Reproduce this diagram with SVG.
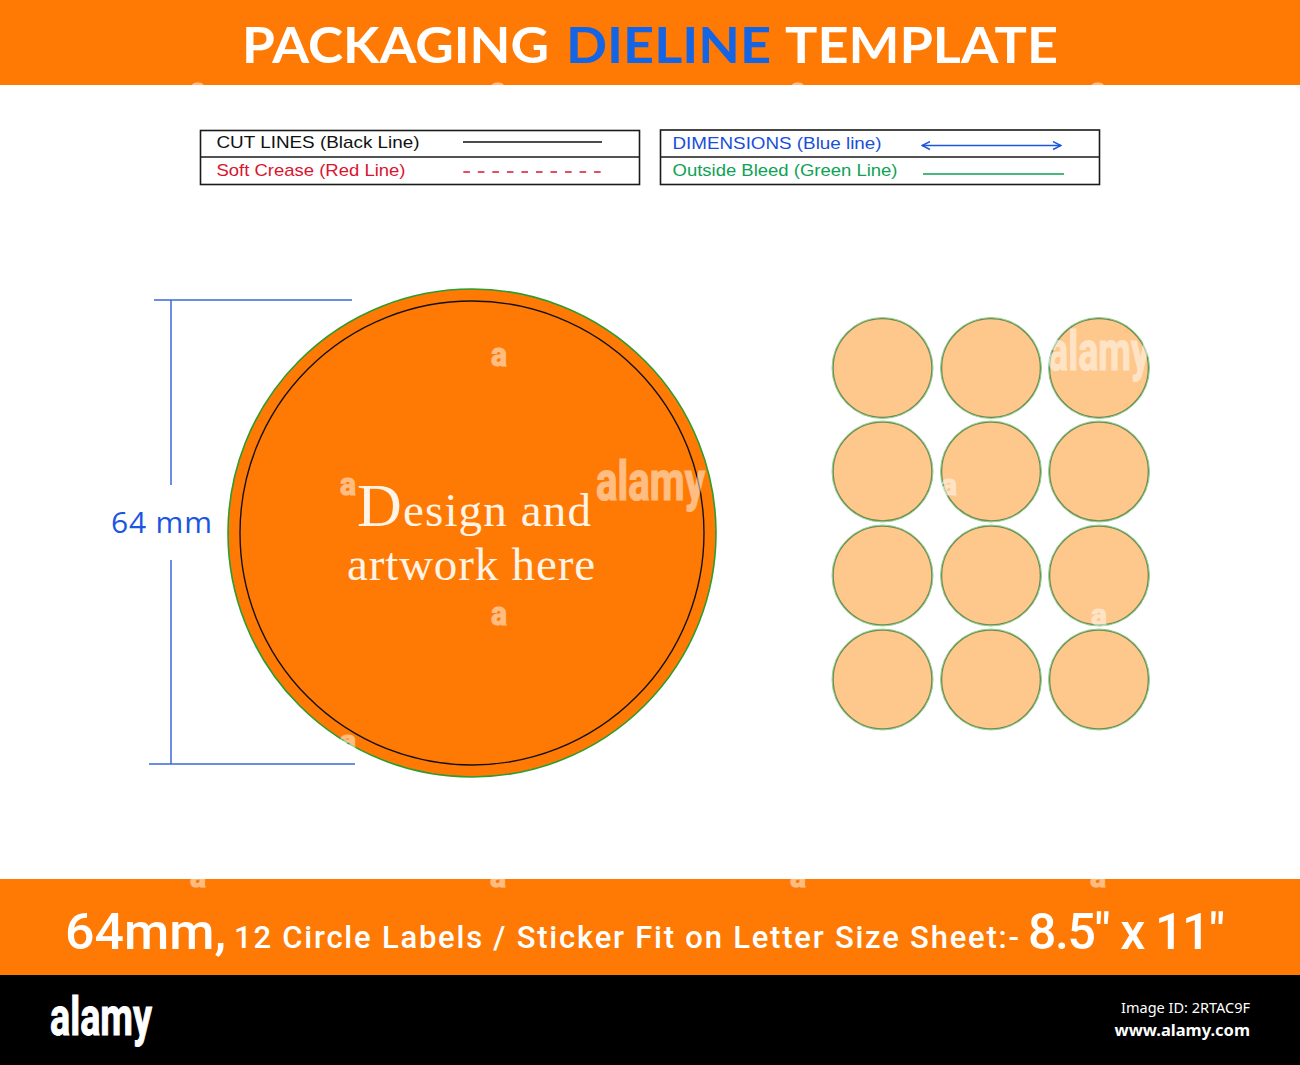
<svg xmlns="http://www.w3.org/2000/svg" width="1300" height="1065" viewBox="0 0 1300 1065">
<defs>
<marker id="ah" viewBox="0 0 10 10" refX="9" refY="5" markerWidth="10" markerHeight="10" orient="auto-start-reverse" markerUnits="userSpaceOnUse"><path d="M1 1 L9 5 L1 9" fill="none" stroke="#1a56e0" stroke-width="1.4"/></marker>
<clipPath id="top-band"><rect width="1300" height="85"/></clipPath>
<clipPath id="bottom-band"><rect y="879" width="1300" height="96"/></clipPath>
</defs>
<style>
.hd{font-family:"Lato","Open Sans","Liberation Sans",sans-serif;font-weight:700;font-size:50px}
.lg{font-family:"Liberation Sans",Arial,sans-serif;font-size:17px}
.ft{font-family:"Roboto","Liberation Sans",sans-serif;fill:#fff;font-weight:500}
.box{fill:#fff;stroke:#1a1a1a;stroke-width:1.6}
.dim{stroke:#3a68d8;stroke-width:1.5;fill:none}
.mini{fill:#fec78c;stroke:#6f8a52;stroke-width:1.6}
.halo{fill:none;stroke:#8fd08f;stroke-width:1}
.wm{font-family:"Roboto","Liberation Sans",sans-serif;font-weight:700;fill:#fff;stroke:#fff;stroke-width:1.2;opacity:.5}
.art{font-family:"Liberation Serif",serif;fill:#fff4e6;font-size:47px}
</style>
<rect width="1300" height="1065" fill="#fff"/>
<g id="header">
<rect width="1300" height="85" fill="#ff7a05"/>
<text class="hd" x="242" y="63" fill="#fff" textLength="307" lengthAdjust="spacingAndGlyphs">PACKAGING</text>
<text class="hd" x="566" y="63" fill="#1464e6" textLength="205" lengthAdjust="spacingAndGlyphs">DIELINE</text>
<text class="hd" x="785" y="63" fill="#fff" textLength="273" lengthAdjust="spacingAndGlyphs">TEMPLATE</text>
<g clip-path="url(#top-band)">
<text class="wm" x="190" y="100" font-size="32" textLength="16" lengthAdjust="spacingAndGlyphs">a</text>
<text class="wm" x="490" y="100" font-size="32" textLength="16" lengthAdjust="spacingAndGlyphs">a</text>
<text class="wm" x="790" y="100" font-size="32" textLength="16" lengthAdjust="spacingAndGlyphs">a</text>
<text class="wm" x="1090" y="100" font-size="32" textLength="16" lengthAdjust="spacingAndGlyphs">a</text>
</g>
</g>
<g id="legend-left">
<rect class="box" x="200.500" y="130.500" width="439" height="54"/>
<line x1="200" y1="157" x2="640" y2="157" stroke="#1a1a1a" stroke-width="1.6"/>
<text class="lg" x="216.500" y="148" fill="#111" textLength="203" lengthAdjust="spacingAndGlyphs">CUT LINES (Black Line)</text>
<text class="lg" x="216.500" y="175.500" fill="#d9152f" textLength="189" lengthAdjust="spacingAndGlyphs">Soft Crease (Red Line)</text>
<line x1="463" y1="142" x2="602" y2="142" stroke="#111" stroke-width="1.4"/>
<line x1="463.300" y1="172" x2="601" y2="172" stroke="#d9152f" stroke-width="1.4" stroke-dasharray="6.600 7.930"/>
</g>
<g id="legend-right">
<rect class="box" x="660.500" y="130" width="439" height="54.500"/>
<line x1="660" y1="157" x2="1100" y2="157" stroke="#1a1a1a" stroke-width="1.6"/>
<text class="lg" x="672.500" y="149" fill="#1a4fd8" textLength="209" lengthAdjust="spacingAndGlyphs">DIMENSIONS (Blue line)</text>
<text class="lg" x="672.500" y="176" fill="#0ea254" textLength="225" lengthAdjust="spacingAndGlyphs">Outside Bleed (Green Line)</text>
<line x1="922" y1="145.500" x2="1061" y2="145.500" stroke="#1a56e0" stroke-width="1.4" marker-start="url(#ah)" marker-end="url(#ah)"/>
<line x1="923" y1="174" x2="1064" y2="174" stroke="#0ea254" stroke-width="1.4"/>
</g>
<g id="connectors">
<line class="dim" x1="154" y1="300" x2="352" y2="300"/>
<line class="dim" x1="149" y1="764" x2="355" y2="764"/>
<line class="dim" x1="171" y1="300" x2="171" y2="485"/>
<line class="dim" x1="171" y1="560" x2="171" y2="764"/>
</g>
<g id="dim-label">
<text x="111" y="533" font-family="'Open Sans','Noto Sans',sans-serif" font-size="30" font-weight="500" fill="#1a56e0" textLength="101" lengthAdjust="spacing">64 mm</text>
</g>
<g id="big-circle">
<circle cx="472" cy="533" r="244" fill="#ff7a05" stroke="#2e9b2e" stroke-width="1.6"/>
<circle cx="472" cy="533" r="232" fill="none" stroke="#111" stroke-width="1.4"/>
<text class="art" x="357" y="526" textLength="234" lengthAdjust="spacing"><tspan font-size="62">D</tspan>esign and</text>
<text class="art" x="347" y="580" textLength="248" lengthAdjust="spacing">artwork here</text>
<text class="wm" x="596" y="500" font-size="56" textLength="109" lengthAdjust="spacingAndGlyphs">alamy</text>
<text class="wm" x="340" y="495" font-size="32" textLength="16" lengthAdjust="spacingAndGlyphs">a</text>
<text class="wm" x="491" y="366" font-size="34" textLength="16" lengthAdjust="spacingAndGlyphs">a</text>
<text class="wm" x="491" y="625" font-size="34" textLength="16" lengthAdjust="spacingAndGlyphs">a</text>
<text class="wm" x="340" y="749" font-size="26" textLength="16" lengthAdjust="spacingAndGlyphs">a</text>
</g>
<g id="sheet">
<circle class="mini" cx="882.500" cy="368" r="49.500"/><circle class="mini" cx="991" cy="368" r="49.500"/><circle class="mini" cx="1099" cy="368" r="49.500"/>
<circle class="mini" cx="882.500" cy="471.500" r="49.500"/><circle class="mini" cx="991" cy="471.500" r="49.500"/><circle class="mini" cx="1099" cy="471.500" r="49.500"/>
<circle class="mini" cx="882.500" cy="575.500" r="49.500"/><circle class="mini" cx="991" cy="575.500" r="49.500"/><circle class="mini" cx="1099" cy="575.500" r="49.500"/>
<circle class="mini" cx="882.500" cy="679.500" r="49.500"/><circle class="mini" cx="991" cy="679.500" r="49.500"/><circle class="mini" cx="1099" cy="679.500" r="49.500"/>
<circle class="halo" cx="882.500" cy="368" r="50.500"/><circle class="halo" cx="991" cy="368" r="50.500"/><circle class="halo" cx="1099" cy="368" r="50.500"/>
<circle class="halo" cx="882.500" cy="471.500" r="50.500"/><circle class="halo" cx="991" cy="471.500" r="50.500"/><circle class="halo" cx="1099" cy="471.500" r="50.500"/>
<circle class="halo" cx="882.500" cy="575.500" r="50.500"/><circle class="halo" cx="991" cy="575.500" r="50.500"/><circle class="halo" cx="1099" cy="575.500" r="50.500"/>
<circle class="halo" cx="882.500" cy="679.500" r="50.500"/><circle class="halo" cx="991" cy="679.500" r="50.500"/><circle class="halo" cx="1099" cy="679.500" r="50.500"/>
<text class="wm" x="1048" y="370" font-size="56" textLength="102" lengthAdjust="spacingAndGlyphs">alamy</text>
<text class="wm" x="941" y="495" font-size="30" textLength="16" lengthAdjust="spacingAndGlyphs">a</text>
<text class="wm" x="1091" y="625" font-size="30" textLength="16" lengthAdjust="spacingAndGlyphs">a</text>
</g>
<g id="footer-band">
<rect y="879" width="1300" height="96" fill="#ff7a05"/>
<g clip-path="url(#bottom-band)">
<text class="wm" x="190" y="887" font-size="32" textLength="16" lengthAdjust="spacingAndGlyphs">a</text>
<text class="wm" x="490" y="887" font-size="32" textLength="16" lengthAdjust="spacingAndGlyphs">a</text>
<text class="wm" x="790" y="887" font-size="32" textLength="16" lengthAdjust="spacingAndGlyphs">a</text>
<text class="wm" x="1090" y="887" font-size="32" textLength="16" lengthAdjust="spacingAndGlyphs">a</text>
</g>
<text class="ft" x="65" y="949" font-size="50" textLength="161" lengthAdjust="spacingAndGlyphs">64mm,</text>
<text class="ft" x="234" y="948" font-size="31" textLength="785" lengthAdjust="spacing">12 Circle Labels / Sticker Fit on Letter Size Sheet:-</text>
<text class="ft" x="1028" y="949" font-size="50" textLength="197" lengthAdjust="spacing">8.5" x 11"</text>
</g>
<g id="credit">
<rect y="975" width="1300" height="90" fill="#000"/>
<text x="50" y="1035" font-family="'Roboto','Liberation Sans',sans-serif" font-weight="700" font-size="54" fill="#fff" stroke="#fff" stroke-width="1" textLength="102" lengthAdjust="spacingAndGlyphs">alamy</text>
<text x="1250" y="1013" text-anchor="end" font-family="'Noto Sans',sans-serif" font-size="14.500" fill="#fff">Image ID: 2RTAC9F</text>
<text x="1250" y="1036" text-anchor="end" font-family="'Noto Sans',sans-serif" font-weight="700" font-size="16.500" fill="#fff">www.alamy.com</text>
</g>
</svg>
